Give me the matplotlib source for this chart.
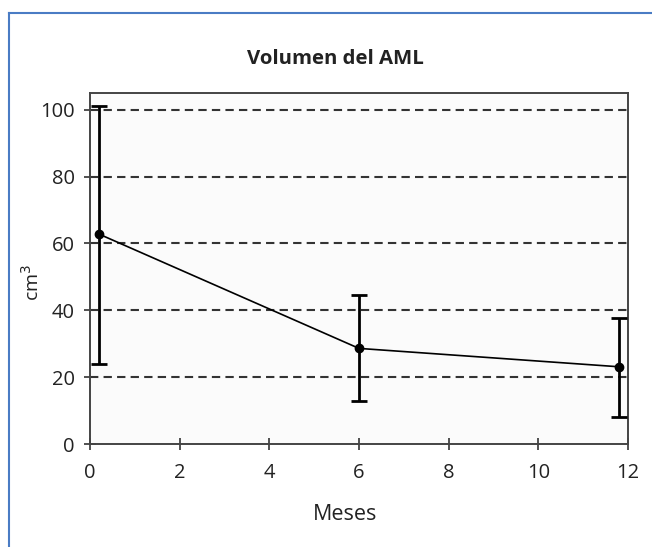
import matplotlib.pyplot as plt
from matplotlib.lines import Line2D

# Data
meses = [0.2, 6, 11.8]
volumen = [62.8, 28.6, 23.1]
err_sup = [101.2, 44.6, 37.8]
err_inf = [24.0, 13.0, 8.2]

x_ticks = [0, 2, 4, 6, 8, 10, 12]
y_ticks = [0, 20, 40, 60, 80, 100]

plt.rcParams['font.family'] = ['Open Sans', 'DejaVu Sans']

fig = plt.figure(figsize=(6.52, 5.47), dpi=100)
ax = fig.add_axes([90 / 652, 103 / 547, 538 / 652, 351 / 547])
ax.set_facecolor('#fbfbfb')

# dashed horizontal grid
for yv in y_ticks[1:]:
    ax.axhline(yv, color='#333333', linestyle=(0, (4, 2.5)), linewidth=1.5, zorder=1)

lower = [v - lo for v, lo in zip(volumen, err_inf)]
upper = [hi - v for v, hi in zip(volumen, err_sup)]
ax.errorbar(meses, volumen, yerr=[lower, upper], color='black', linewidth=1.2,
            elinewidth=2, capsize=6, capthick=2, marker='o', markersize=6, zorder=3)

ax.set_xlim(0, 12)
ax.set_ylim(0, 105)
ax.set_xticks(x_ticks)
ax.set_yticks(y_ticks)
ax.tick_params(direction='inout', length=8, width=1.2, color='#333333',
               labelsize=14.5, labelcolor='#222222', pad=7)
ax.tick_params(axis='x', pad=10)
for s in ax.spines.values():
    s.set_color('#444444')
    s.set_linewidth(1.4)

ax.set_xlabel('Meses', fontsize=15.5, color='#222222', va='center')
ax.xaxis.set_label_coords(0.474, -0.202)
ax.set_ylabel('cm$^3$', fontsize=14, color='#222222', va='center')
ax.yaxis.set_label_coords(-0.108, 0.46)
fig.text(335 / 652, 1 - 59 / 547, 'Volumen del AML', ha='center', va='center',
         fontsize=14.7, fontweight='bold', color='#222222')

# blue frame at top and left
fig.add_artist(Line2D([9 / 652, 9 / 652], [0, 1 - 13 / 547], color='#4a7cc4', linewidth=1.5))
fig.add_artist(Line2D([9 / 652, 1], [1 - 13 / 547, 1 - 13 / 547], color='#4a7cc4', linewidth=1.5))

plt.savefig('out.png', dpi=100)
